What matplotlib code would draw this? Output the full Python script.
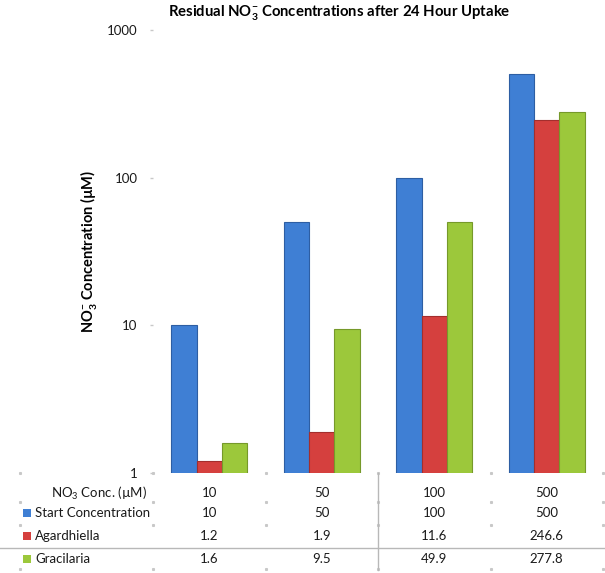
import numpy as np
import matplotlib
matplotlib.use("Agg")
from matplotlib import pyplot as plt
from matplotlib.patches import Rectangle
from matplotlib.transforms import blended_transform_factory

plt.rcParams["font.family"] = ["Lato", "DejaVu Sans"]
plt.rcParams["mathtext.default"] = "regular"

categories = ["10", "50", "100", "500"]
series_names = ["Start Concentration", "Agardhiella", "Gracilaria"]
start_conc = [10, 50, 100, 500]
agardhiella = [1.2, 1.9, 11.6, 246.6]
gracilaria = [1.6, 9.5, 49.9, 277.8]
series_values = [start_conc, agardhiella, gracilaria]
table_labels = [["10", "10", "1.2", "1.6"],
                ["50", "50", "1.9", "9.5"],
                ["100", "100", "11.6", "49.9"],
                ["500", "500", "246.6", "277.8"]]

face_colors = ["#3F7FD4", "#D5403E", "#9CC83B"]
edge_colors = ["#2D5EA3", "#A32E2D", "#76992A"]

W, H = 605, 573
fig = plt.figure(figsize=(W / 100, H / 100), dpi=100)
ax = fig.add_axes([153 / W, 1 - 473 / H, 450 / W, (473 - 30) / H])

x = np.arange(len(categories))
bar_w = 0.225
for i, (vals, fc, ec) in enumerate(zip(series_values, face_colors, edge_colors)):
    ax.bar(x + (i - 1) * bar_w, vals, width=bar_w, color=fc,
           edgecolor=ec, linewidth=0.8, label=series_names[i])

ax.set_yscale("log")
ax.set_ylim(1, 1000)
ax.set_xlim(-0.5, len(categories) - 0.5)
ax.set_yticks([1, 10, 100, 1000])
ax.set_yticklabels(["1", "10", "100", "1000"])
ax.minorticks_off()
ax.tick_params(axis="y", length=2, width=1, color="#c8c8c8", labelsize=9.5,
               pad=9, labelcolor="#1a1a1a")
ax.set_xticks([])
for s in ax.spines.values():
    s.set_visible(False)

ax.set_ylabel("NO$_3^{-}$ Concentration (µM)", fontsize=10.5,
              fontweight="bold", labelpad=6)
fig.text(339 / W, 1 - 13 / H,
         "Residual NO$_3^{-}$ Concentrations after 24 Hour Uptake",
         ha="center", va="center", fontsize=10.7, fontweight="bold")

# data table under the plot
tr = blended_transform_factory(ax.transData, fig.transFigure)
row_y = [493, 513, 536, 559]
for col, vals in enumerate(table_labels):
    for r, txt in enumerate(vals):
        ax.text(col, 1 - row_y[r] / H, txt, transform=tr, ha="center",
                va="center", fontsize=9.5, color="#1a1a1a", clip_on=False)

fig.text(147 / W, 1 - row_y[0] / H, "NO$_3$ Conc. (µM)", ha="right",
         va="center", fontsize=9.5, color="#1a1a1a")
for r, (name, fc) in enumerate(zip(series_names, face_colors)):
    yc = 1 - row_y[r + 1] / H
    fig.add_artist(Rectangle((23 / W, yc - 4 / H), 8 / W, 8 / H,
                             transform=fig.transFigure, facecolor=fc,
                             edgecolor="none"))
    fig.text(35 / W, yc, name, ha="left", va="center", fontsize=9.5,
             color="#1a1a1a")

# faint table grid dots and the stray gray lines
col_edges = np.arange(len(categories) + 1) - 0.5
dot_rows = [473, 502, 525, 569]
for py in dot_rows:
    ax.plot(col_edges, [1 - py / H] * len(col_edges), ls="none", marker="s",
            ms=1.2, color="#c8c8c8", transform=tr, clip_on=False)
    fig.add_artist(plt.Line2D([20 / W], [1 - py / H], ls="none", marker="s",
                              ms=1.2, color="#c8c8c8",
                              transform=fig.transFigure))
fig.add_artist(plt.Line2D([0, 1], [1 - 548 / H] * 2, color="#b8b8b8",
                          lw=1, transform=fig.transFigure))
ax.plot([1.5, 1.5], [1 - 473 / H, 1 - 570 / H], color="#b8b8b8", lw=1,
        transform=tr, clip_on=False)

fig.savefig("out.png", dpi=100)
